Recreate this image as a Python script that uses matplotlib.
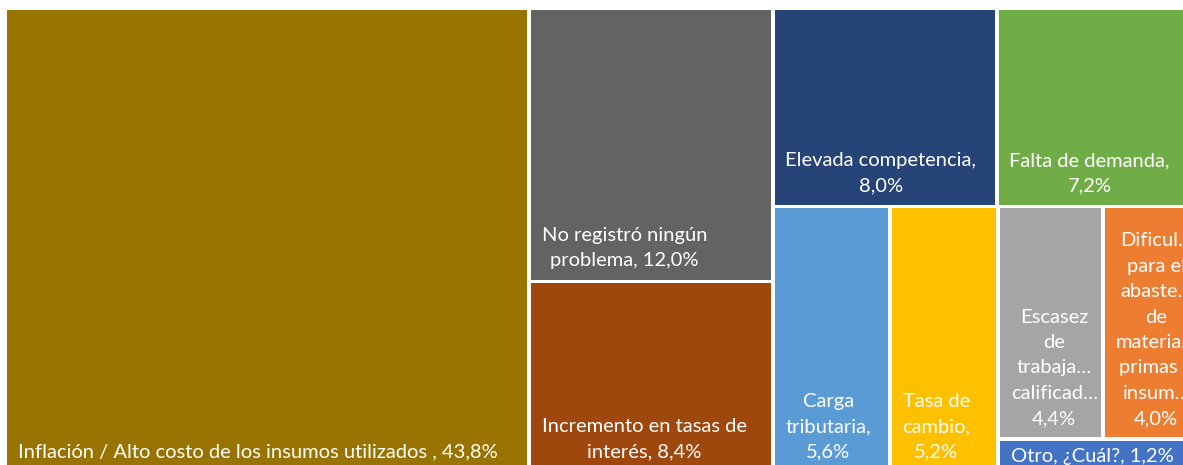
import matplotlib
matplotlib.use("Agg")
import matplotlib.pyplot as plt
from matplotlib.patches import Rectangle

# ---- data ----
categories = [
    "Inflación / Alto costo de los insumos utilizados",
    "No registró ningún problema",
    "Incremento en tasas de interés",
    "Elevada competencia",
    "Falta de demanda",
    "Carga tributaria",
    "Tasa de cambio",
    "Escasez de trabajadores calificados",
    "Dificultades para el abastecimiento de materias primas o insumos",
    "Otro, ¿Cuál?",
]
values = [43.8, 12.0, 8.4, 8.0, 7.2, 5.6, 5.2, 4.4, 4.0, 1.2]
display_labels = [
    "Inflación / Alto costo de los insumos utilizados , 43,8%",
    "No registró ningún\nproblema, 12,0%",
    "Incremento en tasas de\ninterés, 8,4%",
    "Elevada competencia,\n8,0%",
    "Falta de demanda,\n7,2%",
    "Carga\ntributaria,\n5,6%",
    "Tasa de\ncambio,\n5,2%",
    "Escasez\nde\ntrabaja…\ncalificad…\n4,4%",
    "Dificul…\npara el\nabaste…\nde\nmateria…\nprimas o\ninsum…\n4,0%",
    "Otro, ¿Cuál?, 1,2%",
]
colors = ["#997300", "#636363", "#9E480E", "#264478", "#70AD47",
          "#5B9BD5", "#FFC000", "#A5A5A5", "#ED7D31", "#4472C4"]

# layout tree: 'h' splits width, 'v' splits height
tree = ("h", [0, ("v", [1, 2]),
              ("v", [("h", [3, 4]),
                     ("h", [5, 6, ("v", [("h", [7, 8]), 9])])])])

def node_sum(n):
    if isinstance(n, int):
        return values[n]
    return sum(node_sum(c) for c in n[1])

rects = {}
def layout(n, x, y, w, h):
    if isinstance(n, int):
        rects[n] = (x, y, w, h)
        return
    kind, children = n
    tot = node_sum(n)
    pos = x if kind == "h" else y
    for c in children:
        frac = node_sum(c) / tot
        if kind == "h":
            layout(c, pos, y, w * frac, h)
            pos += w * frac
        else:
            layout(c, x, pos, w, h * frac)
            pos += h * frac

X0, Y0, W, H = 5.5, 8.5, 1193, 464
layout(tree, X0, Y0, W, H)

plt.rcParams['font.family'] = ['Lato', 'DejaVu Sans']
fig = plt.figure(figsize=(11.83, 4.65), dpi=100)
ax = fig.add_axes([0, 0, 1, 1])
ax.set_xlim(0, 1183)
ax.set_ylim(465, 0)
ax.axis("off")

g = 3.6
for i in range(len(values)):
    x, y, w, h = rects[i]
    ax.add_patch(Rectangle((x + g / 2, y + g / 2), w - g, h - g,
                           facecolor=colors[i], edgecolor="none"))
    if h < 50:
        ty, va = y + h / 2 + 6, "baseline"
    else:
        ty, va = y + h - 15, "baseline"
    ax.text(x + 12.5, ty, display_labels[i], color="white",
            fontsize=14.5, ha="left", va=va, multialignment="center",
            linespacing=1.6)

fig.savefig("out.png", dpi=100)
